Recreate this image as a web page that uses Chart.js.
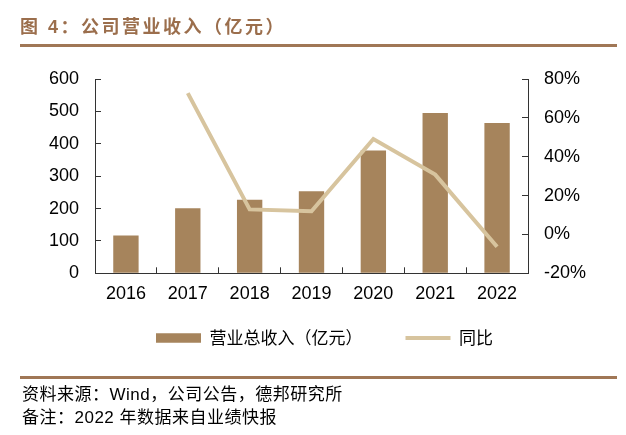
<!DOCTYPE html>
<html>
<head>
<meta charset="utf-8">
<script src="https://cdn.jsdelivr.net/npm/chart.js@4/dist/chart.umd.min.js"></script>
<style>
  body { margin: 0; background: #fff; }
  #wrap { position: relative; width: 626px; height: 435px; overflow: hidden; }
  #title { position: absolute; left: 20px; top: 12px; font: bold 18px "Liberation Sans", "Noto Sans CJK SC"; letter-spacing: 2.5px; color: #9B6E4C; white-space: nowrap; }
  .rule { position: absolute; left: 20px; width: 597px; height: 3px; background: #A07756; }
  .note { position: absolute; left: 22px; font: 17px "Liberation Sans", "Noto Sans CJK SC"; letter-spacing: 0.5px; color: #000; white-space: nowrap; }
  canvas { position: absolute; left: 0; top: 0; }
</style>
</head>
<body>
<div id="wrap">
  <canvas id="canvasRevenue" width="626" height="435"></canvas>
  <div id="title">图 4：公司营业收入（亿元）</div>
  <div class="rule" style="top:44px"></div>
  <div class="rule" style="top:376px"></div>
  <div class="note" style="top:380px">资料来源：Wind，公司公告，德邦研究所</div>
  <div class="note" style="top:403px">备注：2022 年数据来自业绩快报</div>
</div>
<script>
var years = ["2016", "2017", "2018", "2019", "2020", "2021", "2022"];
var revenue = [117, 201, 227, 253, 379, 495, 464];
var growth = [null, 72.7, 12.9, 11.9, 49.1, 30.8, -6.3];
var barLabel = "营业总收入（亿元）";
var lineLabel = "同比";

var barColor = "#A6845C";
var lineColor = "#D7C49E";
var axisColor = "#333";
var tickFont = { family: "Liberation Sans", size: 18 };

var ctx = document.getElementById("canvasRevenue").getContext("2d");
new Chart(ctx, {
    type: "bar",
    data: {
        labels: years,
        datasets: [
            {
                label: barLabel,
                data: revenue,
                backgroundColor: barColor,
                borderWidth: 0,
                barPercentage: 0.41,
                categoryPercentage: 1,
                yAxisID: "y",
                order: 2
            },
            {
                type: "line",
                label: lineLabel,
                data: growth,
                borderColor: lineColor,
                backgroundColor: lineColor,
                borderWidth: 4,
                pointRadius: 0,
                tension: 0,
                fill: false,
                yAxisID: "y1",
                order: 1
            }
        ]
    },
    options: {
        responsive: false,
        animation: false,
        layout: { padding: { top: 79, bottom: 78.5, left: 23, right: 0 } },
        plugins: {
            tooltip: { enabled: false },
            legend: {
                position: "bottom",
                labels: {
                    usePointStyle: true,
                    pointStyleWidth: 45,
                    boxHeight: 9.5,
                    padding: 43,
                    color: "#000",
                    font: { family: "Noto Sans CJK SC", size: 17 },
                    generateLabels: function(chart) {
                        var items = Chart.defaults.plugins.legend.labels.generateLabels(chart);
                        items.sort(function(a, b) { return a.datasetIndex - b.datasetIndex; });
                        items[0].pointStyle = "rect";
                        items[0].lineWidth = 0;
                        items[1].pointStyle = "line";
                        items[1].lineWidth = 4;
                        items[1].strokeStyle = lineColor;
                        return items;
                    }
                }
            }
        },
        scales: {
            x: {
                // thin box so the legend sits close; mirror stops label clipping
                afterFit: function(scale) { scale.height = 13.2; },
                border: { color: axisColor, width: 1 },
                grid: { drawOnChartArea: false, tickLength: -6, color: axisColor, offset: true },
                ticks: { color: "#000", font: tickFont, mirror: true, padding: -32, maxRotation: 0 }
            },
            y: {
                position: "left",
                min: 0,
                max: 600,
                afterFit: function(scale) { scale.width = 72; },
                border: { color: axisColor, width: 1 },
                grid: { drawOnChartArea: false, tickLength: -6, color: axisColor },
                ticks: { stepSize: 100, color: "#000", font: tickFont, padding: 22 }
            },
            y1: {
                position: "right",
                min: -20,
                max: 80,
                afterFit: function(scale) { scale.width = 98; },
                border: { color: axisColor, width: 1 },
                grid: { drawOnChartArea: false, tickLength: -6, color: axisColor },
                ticks: {
                    stepSize: 20,
                    color: "#000",
                    font: tickFont,
                    padding: 22,
                    callback: function(v) { return v + "%"; }
                }
            }
        }
    }
});
</script>
</body>
</html>
